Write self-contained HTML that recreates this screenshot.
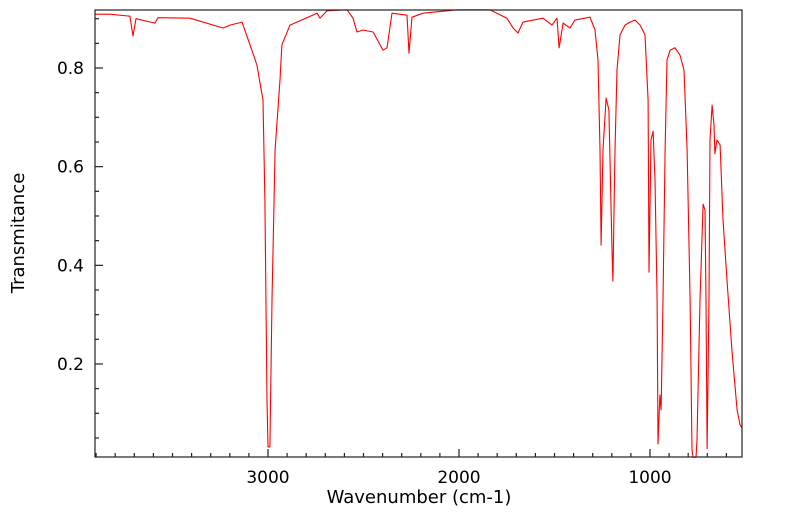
<!DOCTYPE html>
<html><head><meta charset="utf-8"><style>
body{margin:0;background:#fff;}
svg{display:block;font-family:"DejaVu Sans","Liberation Sans",sans-serif;}
</style></head><body>
<svg id="chart" width="799" height="516">
<g id="ticks"></g>
<polyline id="line" fill="none" stroke="#ff0000" stroke-width="1.1" stroke-linejoin="round"/>
<rect x="95" y="10" width="647" height="447" fill="none" stroke="#222" stroke-width="1.2"/>
<g id="labels" font-size="17" fill="#000"></g>
<text x="419" y="503" text-anchor="middle" font-size="18">Wavenumber (cm-1)</text>
<text transform="translate(24,233) rotate(-90)" text-anchor="middle" font-size="18">Transmitance</text>
</svg>
<script>
const wavenumbers=[3906,3827,3723,3707,3691,3592,3576,3408,3236,3199,3136,3094,3058,3026,3016,3005,3000,2990,2979,2963,2937,2927,2885,2743,2728,2691,2586,2555,2534,2503,2450,2398,2377,2351,2272,2262,2246,2188,2010,1838,1749,1717,1691,1665,1560,1513,1487,1476,1455,1419,1393,1314,1288,1272,1262,1256,1246,1230,1215,1199,1194,1183,1173,1157,1131,1105,1078,1052,1026,1010,1005,995,984,974,963,958,948,942,932,921,911,895,869,843,822,806,790,780,775,759,754,738,722,712,707,701,691,686,675,665,660,649,633,618,597,571,544,529,518];
const transmittance=[.909,.909,.905,.865,.900,.891,.902,.901,.881,.887,.893,.847,.806,.735,.532,.127,.032,.032,.330,.634,.776,.847,.887,.911,.901,.916,.918,.901,.873,.877,.873,.836,.841,.911,.907,.830,.903,.911,.918,.918,.901,.881,.871,.893,.901,.887,.901,.841,.891,.881,.897,.903,.877,.816,.634,.441,.634,.739,.715,.431,.368,.634,.796,.867,.887,.893,.897,.887,.867,.735,.386,.654,.672,.573,.330,.038,.137,.107,.330,.634,.816,.836,.841,.826,.796,.634,.330,.026,.011,.011,.046,.330,.524,.512,.330,.028,.330,.654,.725,.684,.626,.654,.644,.492,.370,.228,.107,.077,.070];
const xTickLabels=[3000,2000,1000];
const yTickLabels=[0.2,0.4,0.6,0.8];
const X=w=>268+(3000-w)*0.191;
const Y=t=>68+(0.8-t)*493.3;
const NS='http://www.w3.org/2000/svg';
document.getElementById('line').setAttribute('points',wavenumbers.map((w,i)=>X(w).toFixed(1)+','+Y(transmittance[i]).toFixed(1)).join(' '));
const tg=document.getElementById('ticks'),lg=document.getElementById('labels');
function ln(x1,y1,x2,y2){const l=document.createElementNS(NS,'line');l.setAttribute('x1',x1);l.setAttribute('y1',y1);l.setAttribute('x2',x2);l.setAttribute('y2',y2);l.setAttribute('stroke','#222');l.setAttribute('stroke-width','1.2');


tg.appendChild(l);}
for(let w=3900;w>=600;w-=100){const x=X(w);if(x<96||x>741)continue;ln(x,457,x,w%1000===0?449:453);}
for(let t=0.05;t<0.92;t+=0.05){const y=Y(t);if(y<11||y>456)continue;const maj=Math.abs(t*10-Math.round(t*10))<0.01&&Math.round(t*10)%2===0;ln(95,y,maj?103:99,y);}
xTickLabels.forEach(v=>{const t=document.createElementNS(NS,'text');t.setAttribute('x',X(v));t.setAttribute('y',483);t.setAttribute('text-anchor','middle');t.textContent=v;


lg.appendChild(t);});
yTickLabels.forEach(v=>{const t=document.createElementNS(NS,'text');t.setAttribute('x',84);t.setAttribute('y',Y(v)+6);t.setAttribute('text-anchor','end');t.textContent=v.toFixed(1);


lg.appendChild(t);});
</script>
</body></html>
